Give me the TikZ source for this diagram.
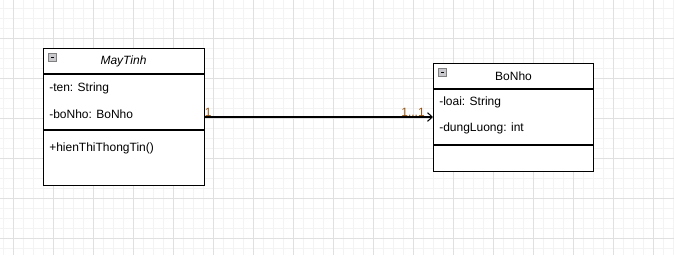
\documentclass[tikz,border=0pt]{standalone}
\usepackage{fontspec}
\setmainfont{Liberation Sans}
\usetikzlibrary{arrows.meta,positioning}
\definecolor{gridminor}{RGB}{243,243,243}
\definecolor{gridmajor}{RGB}{224,224,224}
\definecolor{multcol}{RGB}{150,85,20}
\definecolor{togglegray}{RGB}{200,200,205}

\begin{document}
\begin{tikzpicture}[x=0.75pt, y=-0.75pt,
        every node/.style={font=\fontsize{9pt}{11pt}\selectfont},
        minorline/.style={gridminor, line width=0.75pt},
        majorline/.style={gridmajor, line width=0.75pt},
        classbox/.style={draw, line width=0.9pt, fill=white, anchor=north west, inner sep=0pt},
        member/.style={anchor=west, inner sep=0pt},
        toggle/.style={draw=gray, fill=togglegray, line width=0.6pt, minimum size=6pt,
                       inner sep=0pt, anchor=north west},
        mult/.style={text=multcol, inner sep=0pt},
        assoc/.style={-{Straight Barb[length=3.5pt, width=6.5pt]}, line width=0.8pt}
    ]
        \useasboundingbox (0,0) rectangle (674,255);
        \fill[white] (0,0) rectangle (674,255);

        % background grid
        \foreach \x in {3,13,...,673} \draw[minorline] (\x,0) -- (\x,255);
        \foreach \y in {8,18,...,254} \draw[minorline] (0,\y) -- (674,\y);
        \foreach \x in {13,53,...,673} \draw[majorline] (\x,0) -- (\x,255);
        \foreach \y in {38,78,...,254} \draw[majorline] (0,\y) -- (674,\y);

        % class MayTinh
        \node[classbox, minimum width=120.75pt, minimum height=102.75pt] (maytinh) at (43,48) {};
        \node[font=\fontsize{9pt}{11pt}\selectfont\itshape] (maytinhName) at (123.5,61.5) {MayTinh};
        \node[member] (ten) at (49,88) {-ten: String};
        \node[member] (boNho) at (49,114) {-boNho: BoNho};
        \node[member] (hienThi) at (49,148) {+hienThiThongTin()};
        \draw[line width=0.9pt] (maytinh.west |- 0,74) -- (maytinh.east |- 0,74);
        \draw[line width=0.9pt] (maytinh.west |- 0,130) -- (maytinh.east |- 0,130);
        \node[toggle] (maytinhToggle) at (48,53) {};
        \draw[line width=0.8pt] ([xshift=1.3pt]maytinhToggle.center) -- ([xshift=-1.3pt]maytinhToggle.center);

        % class BoNho
        \node[classbox, minimum width=120pt, minimum height=81pt] (bonho) at (433,63) {};
        \node (bonhoName) at (513.5,76) {BoNho};
        \node[member] (loai) at (439,102) {-loai: String};
        \node[member] (dungLuong) at (439,128) {-dungLuong: int};
        \draw[line width=0.9pt] (bonho.west |- 0,89) -- (bonho.east |- 0,89);
        \draw[line width=0.9pt] (bonho.west |- 0,145) -- (bonho.east |- 0,145);
        \node[toggle] (bonhoToggle) at (438,68) {};
        \draw[line width=0.8pt] ([xshift=1.3pt]bonhoToggle.center) -- ([xshift=-1.3pt]bonhoToggle.center);

        % association
        \draw[assoc] (maytinh.east |- 0,117) -- (bonho.west |- 0,117);
        \node[mult, anchor=west] (multSrc) at (204.5,112) {1};
        \node[mult, anchor=east] (multDst) at (425,112) {1...1};
    \end{tikzpicture}
\end{document}
